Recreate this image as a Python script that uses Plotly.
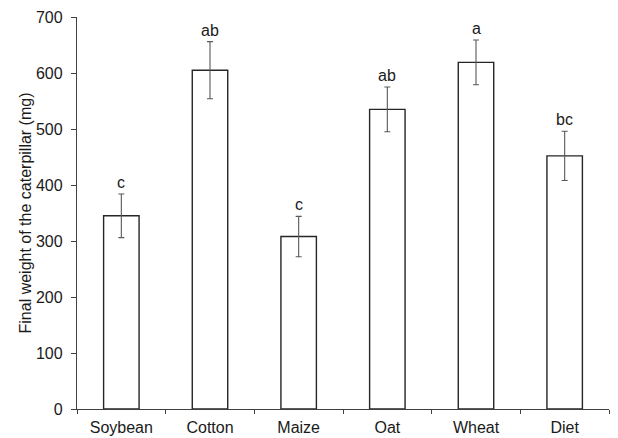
import plotly.graph_objects as go

categories = ["Soybean", "Cotton", "Maize", "Oat", "Wheat", "Diet"]
weights = [345, 605, 308, 535, 619, 452]
errors = [39, 51, 36, 40, 40, 44]
letters = ["c", "ab", "c", "ab", "a", "bc"]
y_ticks = [0, 100, 200, 300, 400, 500, 600, 700]

FONT = "Liberation Sans, Arial, sans-serif"
TXT = "#1a1a1a"

fig = go.Figure()
fig.add_trace(go.Bar(
    x=categories, y=weights, width=0.4,
    marker=dict(color="white", line=dict(color="#262626", width=1.4)),
    error_y=dict(type="data", array=errors, visible=True,
                 color="#595959", thickness=1.1, width=3),
    showlegend=False,
))

for c, v, e, t in zip(categories, weights, errors, letters):
    fig.add_annotation(x=c, y=v + e, text=t, showarrow=False,
                       yanchor="bottom", yshift=1,
                       font=dict(family=FONT, size=16, color=TXT))

fig.update_layout(
    width=618, height=438,
    margin=dict(l=77, r=9, t=17, b=29),
    paper_bgcolor="white", plot_bgcolor="white",
    font=dict(family=FONT, color=TXT),
    bargap=0.6,
)
fig.update_xaxes(
    range=[-0.5, 5.5], showline=True, linecolor="#404040", linewidth=1.3,
    ticks="outside", tickson="boundaries", ticklen=4, tickcolor="#404040",
    tickfont=dict(family=FONT, size=16, color=TXT), ticklabelstandoff=4,
    showgrid=False, zeroline=False, automargin=False,
)
fig.update_yaxes(
    range=[0, 700], tickvals=y_ticks, showline=True, linecolor="#404040",
    linewidth=1.3, ticks="outside", ticklen=5, tickcolor="#404040",
    tickfont=dict(family=FONT, size=16, color=TXT), ticklabelstandoff=5,
    showgrid=False, zeroline=False,
    title=dict(text="Final weight of the caterpillar (mg)",
               font=dict(family=FONT, size=16, color=TXT), standoff=0),
)

fig.write_html("out.html")
